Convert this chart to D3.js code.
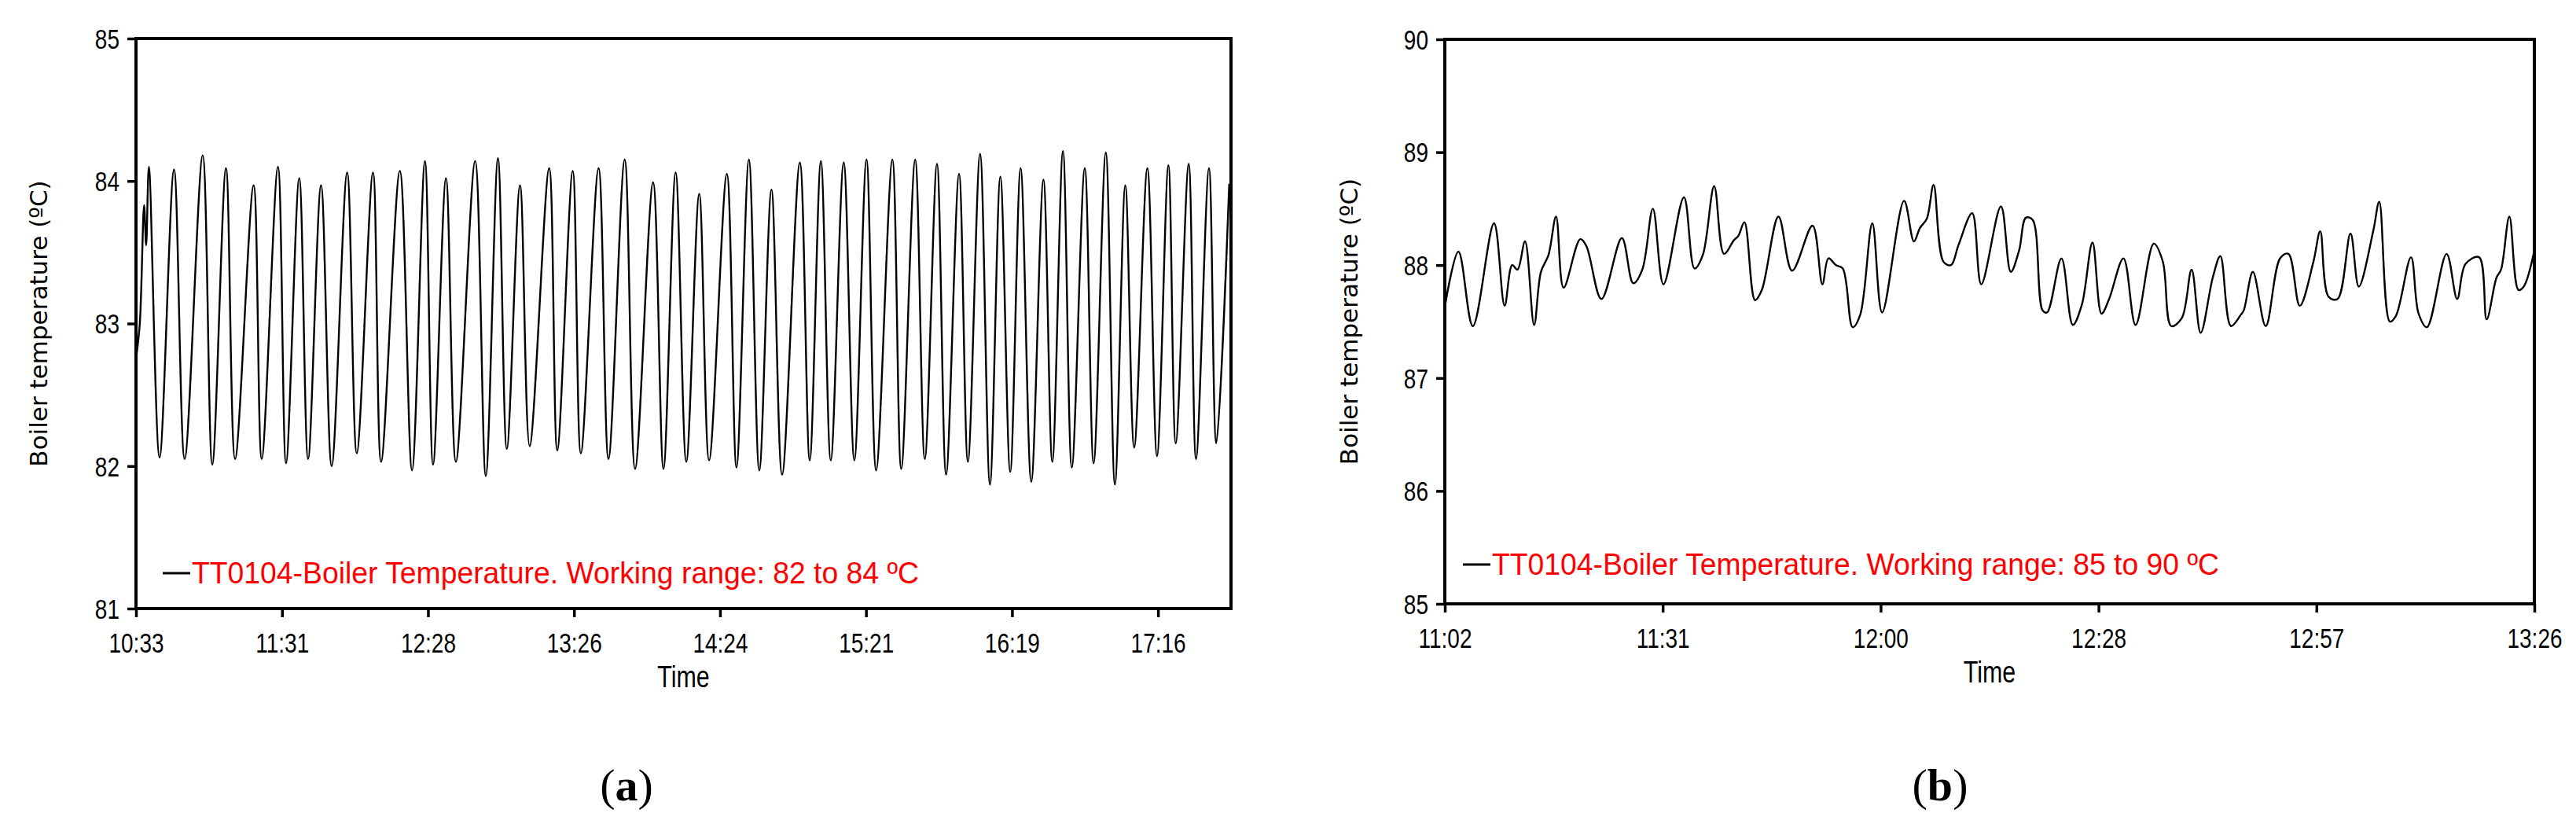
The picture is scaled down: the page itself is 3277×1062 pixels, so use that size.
<!DOCTYPE html>
<html><head><meta charset="utf-8">
<script src="https://cdn.jsdelivr.net/npm/d3@7/dist/d3.min.js"></script>
<style>body{margin:0;background:#fff}</style></head>
<body><svg id="c" width="3277" height="1062"></svg>
<script>
// Panel (a): minutes after 10:33
const aTicks = ["10:33","11:31","12:28","13:26","14:24","15:21","16:19","17:16"];
const aStartT = [0, 1.5, 3.2, 4.0];
const aStartV = [82.75, 83.0, 83.83, 83.55];
const aPeakT = [5.1,15.0,26.3,35.5,46.4,56.0,64.4,73.0,83.3,93.5,104.1,114.0,122.3,133.8,142.8,151.5,163.0,172.3,182.5,192.8,204.0,212.9,222.2,233.1,241.8,250.7,261.9,270.2,279.2,288.2,298.4,307.4,316.0,324.7,333.0,341.0,349.0,358.0,365.7,374.3,382.6,390.3,399.0,407.3,415.3,423.3,431.3];
const aPeakV = [84.10,84.08,84.18,84.09,83.97,84.10,84.02,83.97,84.06,84.06,84.07,84.14,84.02,84.14,84.16,83.97,84.09,84.07,84.09,84.15,83.99,84.06,83.91,84.05,84.15,83.94,84.13,84.14,84.13,84.15,84.15,84.15,84.12,84.05,84.19,84.03,84.09,84.01,84.21,84.09,84.20,83.97,84.09,84.11,84.12,84.09,83.98];
const aTroughT = [9.3,19.2,30.1,39.1,49.6,59.2,67.9,77.2,87.1,96.7,108.9,117.2,126.2,138.0,146.3,155.3,166.2,175.5,186.4,196.9,208.1,217.1,226.1,236.9,245.9,254.9,265.8,274.1,283.4,292.0,301.9,311.2,319.6,328.2,336.9,344.9,353.2,361.5,369.2,377.8,386.2,393.8,402.8,410.2,418.2,426.2];
const aTroughV = [82.06,82.05,82.01,82.05,82.05,82.02,82.05,82.00,82.09,82.03,81.97,82.01,82.03,81.93,82.12,82.14,82.11,82.09,82.05,81.98,81.98,82.03,82.04,81.99,81.97,81.94,82.04,82.04,82.04,81.97,81.98,82.05,81.94,82.03,81.87,81.96,81.89,82.03,81.99,82.02,81.87,82.13,82.07,82.16,82.05,82.16];

// Panel (b): minutes after 11:02
const bTicks = ["11:02","11:31","12:00","12:28","12:57","13:26"];
const bT = [0,1.8,3.7,6.5,7.9,8.9,9.6,10.6,11.8,12.7,13.7,14.7,15.7,17.9,18.7,20.7,23.4,24.9,26.1,27.5,28.9,31.6,33.0,34.1,35.6,36.9,38.2,38.8,39.6,41.0,41.9,44.1,45.9,48.6,49.9,50.7,51.7,52.6,53.9,54.9,56.5,57.8,60.7,62.0,62.8,63.7,64.6,65.9,66.9,67.9,69.7,70.9,73.5,74.8,75.9,76.8,77.7,79.0,79.6,81.5,83.0,84.2,85.6,86.8,87.8,89.7,91.3,93.7,94.9,96.0,97.4,98.7,99.9,101.5,102.5,103.9,105.2,105.6,106.8,108.5,110.4,111.5,113.0,114.8,115.7,116.8,118.0,119.7,120.8,122.7,123.5,124.9,125.7,127.7,128.7,129.8,132.4,133.8,134.9,136.7,137.7,139.0,139.6,140.7,141.9,142.6,144.0];
const bV = [87.63,88.12,87.46,88.37,87.64,88.0,87.96,88.21,87.47,87.94,88.09,88.43,87.80,88.23,88.17,87.70,88.24,87.84,87.96,88.50,87.83,88.60,87.97,88.09,88.70,88.10,88.22,88.26,88.38,87.69,87.78,88.43,87.95,88.35,87.83,88.06,88.0,87.97,87.45,87.56,88.37,87.58,88.57,88.21,88.33,88.41,88.71,88.03,88.0,88.18,88.46,87.83,88.52,87.94,88.13,88.42,88.40,87.60,87.58,88.06,87.47,87.65,88.20,87.57,87.70,88.06,87.47,88.19,88.03,87.46,87.53,87.96,87.40,87.89,88.08,87.46,87.56,87.60,87.94,87.46,88.06,88.10,87.64,88.03,88.30,87.72,87.70,88.28,87.81,88.30,88.56,87.50,87.55,88.07,87.57,87.45,88.10,87.70,88.01,88.07,87.52,87.89,87.96,88.43,87.78,87.81,88.13];

const svg = d3.select("#c");
const NARROW = "'Liberation Sans',sans-serif";
function condense(sel, f){ sel.each(function(){ const w=this.getComputedTextLength();
  d3.select(this).attr("textLength", w*f).attr("lengthAdjust","spacingAndGlyphs"); }); }

function panel(o){
  const g = svg.append("g");
  const x = d3.scaleLinear().domain(o.xdom).range([o.l, o.r]);
  const y = d3.scaleLinear().domain(o.ydom).range([o.b, o.t]);
  const line = d3.line().x(d=>x(d[0])).y(d=>y(d[1])).curve(d3.curveCatmullRom.alpha(0.5));
  g.append("path").datum(o.data).attr("d", line).attr("fill","none").attr("stroke","#000").attr("stroke-width",2.4);
  g.append("rect").attr("x",o.l).attr("y",o.t).attr("width",o.r-o.l).attr("height",o.b-o.t)
    .attr("fill","none").attr("stroke","#000").attr("stroke-width",4);
  const xa = g.append("g").attr("transform",`translate(0,${o.b})`)
    .call(d3.axisBottom(x).tickValues(o.tickT).tickFormat((d,i)=>o.ticks[i]).tickSize(11).tickPadding(20));
  const ya = g.append("g").attr("transform",`translate(${o.l},0)`)
    .call(d3.axisLeft(y).ticks(o.ydom[1]-o.ydom[0]).tickFormat(d3.format("d")).tickSize(11).tickPadding(10));
  [xa,ya].forEach(a=>{a.select(".domain").remove();
    a.selectAll("line").attr("stroke","#000").attr("stroke-width",3.5);
    a.selectAll("text").attr("font-family",NARROW).attr("font-size",35).attr("fill","#000");
    condense(a.selectAll("text"), 0.8);});
  ya.selectAll("text").attr("dy","0.35em");
  g.append("text").attr("transform",`translate(${o.yl},${(o.t+o.b)/2}) rotate(-90)`)
    .attr("text-anchor","middle").attr("font-family","'DejaVu Sans',sans-serif").attr("font-size",31)
    .text(o.ylabel);
  const tt = g.append("text").attr("x",(o.l+o.r)/2).attr("y",o.b+100).attr("text-anchor","middle")
    .attr("font-family",NARROW).attr("font-size",38).text("Time");
  condense(tt, 0.8);
  g.append("line").attr("x1",o.lx).attr("x2",o.lx+35).attr("y1",o.ly-13).attr("y2",o.ly-13)
    .attr("stroke","#000").attr("stroke-width",3);
  const lt = g.append("text").attr("x",o.lx+37).attr("y",o.ly).attr("font-family",NARROW).attr("font-size",39)
    .attr("fill","#ff0000").text(o.legend);
  lt.attr("textLength", o.legW).attr("lengthAdjust","spacingAndGlyphs");
  const cap = g.append("text").attr("x",o.capx).attr("y",1018).attr("text-anchor","middle")
    .attr("font-family","'Liberation Serif',serif").attr("font-size",58);
  cap.append("tspan").text("(");
  cap.append("tspan").attr("font-weight","bold").text(o.cap);
  cap.append("tspan").text(")");
}

const aData = aStartT.map((t,i)=>[t,aStartV[i]]);
aPeakT.forEach((t,i)=>{aData.push([t,aPeakV[i]]); if(i<aTroughT.length) aData.push([aTroughT[i],aTroughV[i]]);});
panel({xdom:[0,432], ydom:[81,85], l:173, r:1566, t:49, b:774, data:aData,
  tickT:aTicks.map((d,i)=>i*57.6), ticks:aTicks, yl:60,
  ylabel:"Boiler temperature  (ºC)", lx:207, ly:742, legW:925,
  legend:"TT0104-Boiler Temperature. Working range: 82 to 84 ºC", cap:"a", capx:797});
panel({xdom:[0,144], ydom:[85,90], l:1838, r:3224, t:50, b:768, data:bT.map((t,i)=>[t,bV[i]]),
  tickT:bTicks.map((d,i)=>i*28.8), ticks:bTicks, yl:1727,
  ylabel:"Boiler temperature (ºC)", lx:1861, ly:731, legW:925,
  legend:"TT0104-Boiler Temperature. Working range: 85 to 90 ºC", cap:"b", capx:2468});
</script></body></html>
